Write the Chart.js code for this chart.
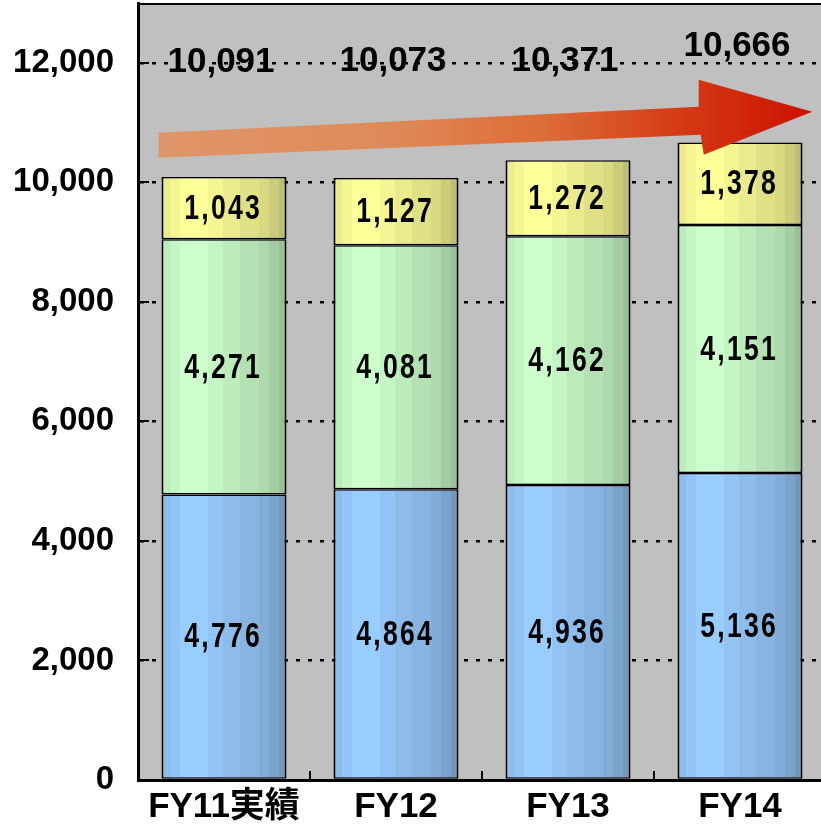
<!DOCTYPE html>
<html>
<head>
<meta charset="utf-8">
<script src="https://cdn.jsdelivr.net/npm/chart.js@4.4.1/dist/chart.umd.min.js"></script>
<style>
  html, body { margin: 0; padding: 0; background: #ffffff; overflow: hidden; }
  #wrap { position: relative; width: 830px; height: 827px; }
</style>
</head>
<body>
<div id="wrap"><canvas id="c" width="830" height="827"></canvas></div>
<script>
// Fiscal years and the three stacked components
const categories   = ['FY11実績', 'FY12', 'FY13', 'FY14'];
const blueValues   = [4776, 4864, 4936, 5136];
const greenValues  = [4271, 4081, 4162, 4151];
const yellowValues = [1043, 1127, 1272, 1378];
const totals       = [10091, 10073, 10371, 10666];
const yTickValues  = [0, 2000, 4000, 6000, 8000, 10000, 12000];

// Layout settings (not data)
const BAR_PCT = 0.727;
const totalLabelLevels = [12000, 12030, 12030, 12270];
const arrowShape = {
  tail: -0.38, neck: 2.76, tip: 3.42,
  tailLevel: 10620, neckLevel: 11030, tipLevel: 11180,
  headTop: 11715, headBottom: 10460,
  tailHalf: 12.5, neckHalf: 14
};

const NUM_FONT = '"Liberation Sans", Arial, sans-serif';
const LABEL_FONT = '"Liberation Sans", "Noto Sans CJK JP", sans-serif';

// Cylinder-like banding across each bar
const bandStops = [
  [0.00, 0.92], [0.07, 0.96], [0.15, 1.00], [0.37, 0.96], [0.49, 0.92],
  [0.63, 0.88], [0.78, 0.85], [0.86, 0.80], [0.94, 0.75]
];
function shade(rgb, f) {
  return 'rgb(' + rgb.map(c => Math.round(c * f)).join(',') + ')';
}
function bandFill(rgb) {
  return function (ctx) {
    const chart = ctx.chart;
    const area = chart.chartArea;
    if (!area || !chart.scales.x) return shade(rgb, 1);
    const xs = chart.scales.x;
    const center = xs.getPixelForValue(ctx.dataIndex);
    const half = (area.right - area.left) / categories.length * BAR_PCT / 2;
    const g = chart.ctx.createLinearGradient(center - half, 0, center + half, 0);
    for (let i = 0; i < bandStops.length; i++) {
      const start = bandStops[i][0];
      const end = i + 1 < bandStops.length ? bandStops[i + 1][0] : 1;
      const col = shade(rgb, bandStops[i][1]);
      g.addColorStop(start, col);
      g.addColorStop(Math.max(start, end - 0.0001), col);
    }
    return g;
  };
}

const fmt = v => v.toLocaleString('en-US');

// Text squeezed horizontally, for the tall narrow numerals
function narrowText(ctx, text, x, y, squeeze, spacing) {
  ctx.save();
  ctx.translate(x, y);
  ctx.scale(squeeze, 1);
  if ('letterSpacing' in ctx) ctx.letterSpacing = spacing + 'px';
  ctx.fillText(text, spacing / 2, 0);
  ctx.restore();
}

const plotBackground = {
  id: 'plotBackground',
  beforeDraw(chart) {
    const { ctx, chartArea: a } = chart;
    ctx.save();
    ctx.fillStyle = '#c0c0c0';
    ctx.fillRect(a.left, a.top, a.right - a.left, a.bottom - a.top);
    ctx.restore();
  }
};

const decorations = {
  id: 'decorations',
  afterDatasetsDraw(chart) {
    const { ctx, chartArea: a } = chart;
    const xs = chart.scales.x, ys = chart.scales.y;
    ctx.save();

    // frame line along the top
    ctx.strokeStyle = '#000';
    ctx.lineWidth = 2;
    ctx.beginPath();
    ctx.moveTo(a.left - 1, a.top + 1);
    ctx.lineTo(a.right + 5, a.top + 1);
    ctx.stroke();

    // inward tick marks on the value axis
    ctx.lineWidth = 2;
    yTickValues.forEach(v => {
      if (v === 0) return;
      const y = Math.round(ys.getPixelForValue(v));
      ctx.beginPath();
      ctx.moveTo(a.left, y);
      ctx.lineTo(a.left + 11, y);
      ctx.stroke();
    });
    // inward tick marks between categories
    for (let i = 1; i < categories.length; i++) {
      const x = Math.round((xs.getPixelForValue(i - 1) + xs.getPixelForValue(i)) / 2);
      ctx.beginPath();
      ctx.moveTo(x, a.bottom);
      ctx.lineTo(x, a.bottom - 9);
      ctx.stroke();
    }

    // values inside each segment
    ctx.fillStyle = '#000';
    ctx.textAlign = 'center';
    ctx.textBaseline = 'middle';
    ctx.font = 'bold 35px ' + NUM_FONT;
    chart.data.datasets.forEach((ds, di) => {
      const meta = chart.getDatasetMeta(di);
      meta.data.forEach((bar, i) => {
        const cy = (bar.y + bar.base) / 2;
        narrowText(ctx, fmt(ds.data[i]), bar.x - 2, cy + 1, 0.76, 3);
      });
    });

    // totals above the stacks
    ctx.font = 'bold 35px ' + NUM_FONT;
    ctx.fillStyle = '#000';
    totals.forEach((t, i) => {
      const x = xs.getPixelForValue(i) - 3;
      const y = ys.getPixelForValue(totalLabelLevels[i]);
      ctx.fillText(fmt(t), x, y);
    });

    // growth arrow
    const A = arrowShape;
    const tx = xs.getPixelForValue(A.tail), nx = xs.getPixelForValue(A.neck), px = xs.getPixelForValue(A.tip);
    const ty = ys.getPixelForValue(A.tailLevel), ny = ys.getPixelForValue(A.neckLevel);
    const py = ys.getPixelForValue(A.tipLevel);
    const hTop = ys.getPixelForValue(A.headTop), hBot = ys.getPixelForValue(A.headBottom);
    const grad = ctx.createLinearGradient(tx, 0, px, 0);
    grad.addColorStop(0, '#e0956a');
    grad.addColorStop(0.35, '#df8a58');
    grad.addColorStop(0.6, '#dc6a36');
    grad.addColorStop(0.8, '#d43a16');
    grad.addColorStop(1, '#cc1100');
    ctx.fillStyle = grad;
    ctx.beginPath();
    ctx.moveTo(tx, ty - A.tailHalf);
    ctx.lineTo(nx, ny - A.neckHalf);
    ctx.lineTo(nx, hTop);
    ctx.lineTo(px, py);
    ctx.lineTo(nx + 5, hBot);
    ctx.lineTo(nx + 2, ny + A.neckHalf);
    ctx.lineTo(tx, ty + A.tailHalf);
    ctx.closePath();
    ctx.fill();

    ctx.restore();
  }
};

const barBorder = { top: 1.5, bottom: 1.5, left: 2, right: 2 };

new Chart(document.getElementById('c'), {
  type: 'bar',
  data: {
    labels: categories,
    datasets: [
      { data: blueValues,   backgroundColor: bandFill([153, 204, 255]) },
      { data: greenValues,  backgroundColor: bandFill([204, 255, 204]) },
      { data: yellowValues, backgroundColor: bandFill([255, 255, 153]) }
    ].map(d => Object.assign(d, {
      borderColor: '#000', borderWidth: barBorder, borderSkipped: false,
      barPercentage: BAR_PCT, categoryPercentage: 1
    }))
  },
  options: {
    responsive: false,
    animation: false,
    devicePixelRatio: 1,
    layout: { padding: { top: 3, right: 4, left: 0, bottom: 0 } },
    plugins: { legend: { display: false }, tooltip: { enabled: false } },
    scales: {
      x: {
        stacked: true,
        grid: { display: false, drawTicks: false },
        border: { display: true, color: '#000', width: 3 },
        ticks: {
          color: '#000', padding: 6, maxRotation: 0, autoSkip: false,
          font: { family: LABEL_FONT, size: 35, weight: 'bold' }
        },
        afterFit(s) { s.height = 47; s.paddingLeft = 0; s.paddingRight = 0; }
      },
      y: {
        stacked: true,
        min: 0, max: 13000,
        afterBuildTicks(s) { s.ticks = yTickValues.map(v => ({ value: v })); },
        grid: { color: '#000', lineWidth: 2.5, drawTicks: false },
        border: { display: true, color: '#000', width: 3, dash: [4, 8] },
        ticks: {
          color: '#000', padding: 24,
          font: { family: NUM_FONT, size: 33, weight: 'bold' },
          callback: v => fmt(v)
        },
        afterFit(s) { s.width = 138; s.paddingTop = 0; s.paddingBottom = 0; }
      }
    }
  },
  plugins: [plotBackground, decorations]
});
</script>
</body>
</html>
